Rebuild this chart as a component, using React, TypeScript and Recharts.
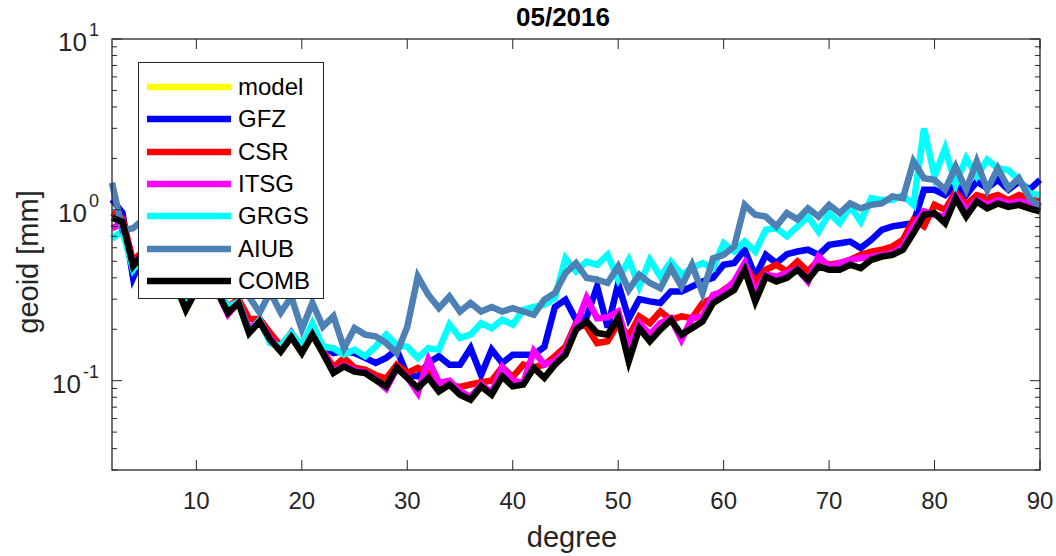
import React from 'react';
import { LineChart, Line, XAxis, YAxis, Legend } from 'recharts';

const FONT = '"Liberation Sans", Arial, Helvetica, sans-serif';
const INK = '#262626';

// spherical harmonic degree
const degrees = [
  2, 3, 4, 5, 6, 7, 8, 9, 10, 11, 12, 13, 14, 15, 16, 17, 18, 19, 20, 21,
  22, 23, 24, 25, 26, 27, 28, 29, 30, 31, 32, 33, 34, 35, 36, 37, 38, 39, 40, 41,
  42, 43, 44, 45, 46, 47, 48, 49, 50, 51, 52, 53, 54, 55, 56, 57, 58, 59, 60, 61,
  62, 63, 64, 65, 66, 67, 68, 69, 70, 71, 72, 73, 74, 75, 76, 77, 78, 79, 80, 81,
  82, 83, 84, 85, 86, 87, 88, 89, 90,
];

// geoid degree amplitudes [mm]
const model = [
  0.90, 0.85, 0.47, 0.56, 0.46, 0.40, 0.37, 0.26, 0.34, 0.32,
  0.33, 0.25, 0.285, 0.19, 0.222, 0.174, 0.148, 0.18, 0.145, 0.186,
  0.145, 0.111, 0.121, 0.113, 0.111, 0.101, 0.0926, 0.119, 0.104, 0.0906,
  0.104, 0.0866, 0.0948, 0.0828, 0.0774, 0.0926, 0.0828, 0.106, 0.0926, 0.0948,
  0.119, 0.104, 0.124, 0.142, 0.199, 0.222, 0.19, 0.186, 0.233, 0.13,
  0.203, 0.17, 0.199, 0.227, 0.186, 0.203, 0.222, 0.285, 0.311, 0.34,
  0.446, 0.291, 0.407, 0.381, 0.40, 0.446, 0.39, 0.466, 0.446, 0.446,
  0.477, 0.456, 0.51, 0.533, 0.545, 0.584, 0.731, 0.935, 0.957, 0.836,
  1.17, 0.914, 1.12, 1.02, 1.09, 1.04, 1.07, 1.02, 0.98,
];
const gfz = [
  1.15, 0.96, 0.40, 0.55, 0.47, 0.42, 0.38, 0.28, 0.35, 0.33,
  0.34, 0.26, 0.29, 0.20, 0.225, 0.17, 0.155, 0.19, 0.15, 0.19,
  0.16, 0.145, 0.149, 0.145, 0.136, 0.127, 0.136, 0.152, 0.108, 0.106,
  0.127, 0.139, 0.124, 0.124, 0.155, 0.108, 0.152, 0.127, 0.142, 0.142,
  0.142, 0.158, 0.27, 0.298, 0.227, 0.235, 0.356, 0.205, 0.37, 0.23,
  0.30, 0.291, 0.285, 0.333, 0.333, 0.356, 0.381, 0.40, 0.477, 0.488,
  0.584, 0.407, 0.545, 0.488, 0.55, 0.57, 0.584, 0.545, 0.624, 0.638,
  0.652, 0.597, 0.668, 0.764, 0.80, 0.817, 0.836, 1.31, 1.31, 1.22,
  1.40, 1.22, 1.46, 1.34, 1.50, 1.31, 1.46, 1.31, 1.50,
];
const csr = [
  0.96, 0.89, 0.50, 0.58, 0.48, 0.42, 0.38, 0.29, 0.35, 0.33,
  0.34, 0.27, 0.30, 0.23, 0.23, 0.19, 0.16, 0.19, 0.155, 0.19,
  0.15, 0.12, 0.136, 0.119, 0.116, 0.108, 0.103, 0.124, 0.111, 0.119,
  0.111, 0.096, 0.094, 0.092, 0.095, 0.098, 0.10, 0.12, 0.105, 0.124,
  0.12, 0.124, 0.139, 0.158, 0.217, 0.207, 0.166, 0.17, 0.217, 0.182,
  0.238, 0.217, 0.254, 0.227, 0.238, 0.232, 0.285, 0.305, 0.34, 0.373,
  0.477, 0.381, 0.446, 0.477, 0.436, 0.498, 0.436, 0.51, 0.477, 0.488,
  0.51, 0.545, 0.57, 0.584, 0.61, 0.668, 0.874, 0.80, 1.07, 1.0,
  1.28, 1.07, 1.22, 1.17, 1.22, 1.14, 1.22, 1.17, 1.17,
];
const itsg = [
  0.78, 0.84, 0.48, 0.55, 0.46, 0.40, 0.37, 0.27, 0.34, 0.32,
  0.33, 0.245, 0.29, 0.20, 0.225, 0.178, 0.152, 0.185, 0.15, 0.19,
  0.147, 0.113, 0.123, 0.115, 0.112, 0.102, 0.09, 0.118, 0.105, 0.085,
  0.133, 0.097, 0.10, 0.087, 0.08, 0.095, 0.085, 0.12, 0.10, 0.097,
  0.149, 0.124, 0.13, 0.15, 0.21, 0.305, 0.232, 0.235, 0.254, 0.155,
  0.217, 0.186, 0.217, 0.232, 0.174, 0.232, 0.238, 0.318, 0.333, 0.381,
  0.488, 0.326, 0.417, 0.407, 0.426, 0.45, 0.381, 0.533, 0.466, 0.488,
  0.51, 0.523, 0.53, 0.545, 0.558, 0.61, 0.80, 0.98, 0.935, 0.914,
  1.22, 1.0, 1.14, 1.07, 1.14, 1.09, 1.12, 1.09, 1.02,
];
const grgs = [
  0.68, 0.75, 0.446, 0.54, 0.46, 0.40, 0.37, 0.28, 0.34, 0.33,
  0.33, 0.27, 0.29, 0.19, 0.227, 0.166, 0.16, 0.19, 0.16, 0.217,
  0.158, 0.155, 0.142, 0.152, 0.139, 0.158, 0.186, 0.162, 0.158, 0.136,
  0.155, 0.152, 0.213, 0.178, 0.186, 0.217, 0.203, 0.227, 0.213, 0.26,
  0.27, 0.278, 0.305, 0.52, 0.436, 0.498, 0.477, 0.545, 0.39, 0.51,
  0.356, 0.51, 0.407, 0.498, 0.417, 0.456, 0.488, 0.456, 0.638, 0.57,
  0.652, 0.57, 0.764, 0.78, 0.70, 0.80, 0.914, 0.746, 0.957, 0.836,
  1.05, 0.854, 1.17, 1.14, 1.14, 1.22, 1.07, 3.0, 1.57, 2.29,
  1.40, 2.0, 1.57, 1.96, 1.75, 1.71, 1.50, 1.25, 1.22,
];
const aiub = [
  1.44, 0.76, 0.78, 0.88, 0.80, 0.70, 0.62, 0.50, 0.52, 0.46,
  0.45, 0.40, 0.38, 0.31, 0.25, 0.33, 0.25, 0.31, 0.20, 0.285,
  0.207, 0.238, 0.155, 0.203, 0.186, 0.182, 0.166, 0.145, 0.207, 0.407,
  0.318, 0.266, 0.311, 0.254, 0.285, 0.254, 0.27, 0.254, 0.266, 0.254,
  0.243, 0.298, 0.326, 0.426, 0.488, 0.40, 0.39, 0.373, 0.466, 0.34,
  0.417, 0.373, 0.348, 0.456, 0.356, 0.477, 0.326, 0.52, 0.545, 0.61,
  1.07, 0.935, 0.914, 0.80, 0.957, 0.88, 1.02, 0.914, 1.07, 0.957,
  1.09, 1.02, 1.07, 1.09, 1.20, 1.17, 1.92, 1.53, 1.50, 1.31,
  1.79, 1.31, 1.92, 1.31, 1.75, 1.34, 1.53, 1.17, 1.05,
];
const comb = [
  0.90, 0.85, 0.47, 0.56, 0.46, 0.40, 0.37, 0.26, 0.34, 0.32,
  0.33, 0.25, 0.285, 0.19, 0.222, 0.174, 0.148, 0.18, 0.145, 0.186,
  0.145, 0.111, 0.121, 0.113, 0.111, 0.101, 0.0926, 0.119, 0.104, 0.0906,
  0.104, 0.0866, 0.0948, 0.0828, 0.0774, 0.0926, 0.0828, 0.106, 0.0926, 0.0948,
  0.119, 0.104, 0.124, 0.142, 0.199, 0.222, 0.19, 0.186, 0.233, 0.13,
  0.203, 0.17, 0.199, 0.227, 0.186, 0.203, 0.222, 0.285, 0.311, 0.34,
  0.446, 0.291, 0.407, 0.381, 0.40, 0.446, 0.39, 0.466, 0.446, 0.446,
  0.477, 0.456, 0.51, 0.533, 0.545, 0.584, 0.731, 0.935, 0.957, 0.836,
  1.17, 0.914, 1.12, 1.02, 1.09, 1.04, 1.07, 1.02, 0.98,
];

const xTicks = [10, 20, 30, 40, 50, 60, 70, 80, 90];
const yTicks = [
  0.03, 0.04, 0.05, 0.06, 0.07, 0.08, 0.09,
  0.1, 0.2, 0.3, 0.4, 0.5, 0.6, 0.7, 0.8, 0.9,
  1, 2, 3, 4, 5, 6, 7, 8, 9, 10,
];

const series = [
  { key: 'model', name: 'model', color: '#ffff00' },
  { key: 'gfz', name: 'GFZ', color: '#0000ff' },
  { key: 'csr', name: 'CSR', color: '#ff0000' },
  { key: 'itsg', name: 'ITSG', color: '#ff00ff' },
  { key: 'grgs', name: 'GRGS', color: '#00ffff' },
  { key: 'aiub', name: 'AIUB', color: '#4d80b5' },
  { key: 'comb', name: 'COMB', color: '#000000' },
];

const data = degrees.map((d, i) => ({
  degree: d,
  model: model[i],
  gfz: gfz[i],
  csr: csr[i],
  itsg: itsg[i],
  grgs: grgs[i],
  aiub: aiub[i],
  comb: comb[i],
}));

// plot box in page pixels
const BOX = { left: 112, right: 1040, top: 39, bottom: 470 };

const isMajor = (v: number) => {
  const l = Math.log10(v);
  return Math.abs(l - Math.round(l)) < 1e-9;
};

// MATLAB style: ticks point into the box
const BottomTick = ({ x, payload }: any) => (
  <g>
    <line x1={x} y1={BOX.bottom} x2={x} y2={BOX.bottom - 10} stroke={INK} />
    <line x1={x} y1={BOX.top} x2={x} y2={BOX.top + 10} stroke={INK} />
    <text x={x} y={BOX.bottom + 39} textAnchor="middle" fontSize={24} fontFamily={FONT} fill={INK}>
      {payload.value}
    </text>
  </g>
);

const LeftTick = ({ y, payload }: any) => {
  const v = payload.value;
  const major = isMajor(v);
  const len = major ? 10 : 5;
  return (
    <g>
      <line x1={BOX.left} y1={y} x2={BOX.left + len} y2={y} stroke={INK} />
      <line x1={BOX.right} y1={y} x2={BOX.right - len} y2={y} stroke={INK} />
      {major && (
        <text x={BOX.left - 13} y={y + 12} textAnchor="end" fontSize={26} fontFamily={FONT} fill={INK}>
          <tspan>10</tspan>
          <tspan dx={2} dy={-15} fontSize={18}>{Math.round(Math.log10(v))}</tspan>
        </text>
      )}
    </g>
  );
};

const LegendBox = () => (
  <div
    style={{
      width: 186,
      height: 237,
      boxSizing: 'border-box',
      border: `1px solid ${INK}`,
      background: '#fff',
      position: 'relative',
      fontFamily: FONT,
    }}
  >
    {series.map((s, i) => (
      <div
        key={s.key}
        style={{
          position: 'absolute',
          left: 8,
          top: 24 + i * 32.3 - 16,
          height: 32,
          display: 'flex',
          alignItems: 'center',
        }}
      >
        <svg width={84} height={10} style={{ display: 'block' }}>
          <line x1={0} y1={5} x2={84} y2={5} stroke={s.color} strokeWidth={6.5} />
        </svg>
        <span style={{ marginLeft: 7, fontSize: 24, color: '#000', lineHeight: '32px' }}>{s.name}</span>
      </div>
    ))}
  </div>
);

export default function App() {
  return (
    <div style={{ position: 'absolute', left: 0, top: 0, width: 1056, height: 556, background: '#fff' }}>
      <LineChart
        width={1056}
        height={556}
        data={data}
        margin={{ top: BOX.top, right: 1056 - BOX.right, bottom: 556 - BOX.bottom - 30, left: 0 }}
      >
        <XAxis
          xAxisId="bottom"
          dataKey="degree"
          type="number"
          domain={[2, 90]}
          ticks={xTicks}
          interval={0}
          height={30}
          tickSize={0}
          tickMargin={0}
          tickLine={false}
          axisLine={false}
          tick={(p: any) => <BottomTick {...p} />}
        />
        <YAxis
          yAxisId="left"
          scale="log"
          domain={[0.03, 10]}
          allowDataOverflow
          ticks={yTicks}
          interval={0}
          width={BOX.left}
          tickSize={0}
          tickMargin={0}
          tickLine={false}
          axisLine={false}
          tick={(p: any) => <LeftTick {...p} />}
        />
        {series.map((s) => (
          <Line
            key={s.key}
            xAxisId="bottom"
            yAxisId="left"
            type="linear"
            dataKey={s.key}
            name={s.name}
            stroke={s.color}
            strokeWidth={6.5}
            dot={false}
            activeDot={false}
            isAnimationActive={false}
          />
        ))}
        <Legend
          layout="horizontal"
          verticalAlign="middle"
          align="center"
          content={() => <LegendBox />}
          wrapperStyle={{ position: 'absolute', left: 138, top: 62, width: 186, height: 237 }}
        />
      </LineChart>
      <svg
        width={1056}
        height={556}
        style={{ position: 'absolute', left: 0, top: 0, pointerEvents: 'none' }}
      >
        <rect
          x={BOX.left}
          y={BOX.top}
          width={BOX.right - BOX.left}
          height={BOX.bottom - BOX.top}
          fill="none"
          stroke={INK}
          strokeWidth={1.3}
        />
        <text x={563} y={26} textAnchor="middle" fontSize={26} fontWeight="bold" fontFamily={FONT} fill="#000">
          05/2016
        </text>
        <text x={572} y={547} textAnchor="middle" fontSize={29} fontFamily={FONT} fill={INK}>
          degree
        </text>
        <text
          x={0}
          y={0}
          transform="translate(38 262) rotate(-90)"
          textAnchor="middle"
          fontSize={29}
          fontFamily={FONT}
          fill={INK}
        >
          geoid [mm]
        </text>
      </svg>
    </div>
  );
}
